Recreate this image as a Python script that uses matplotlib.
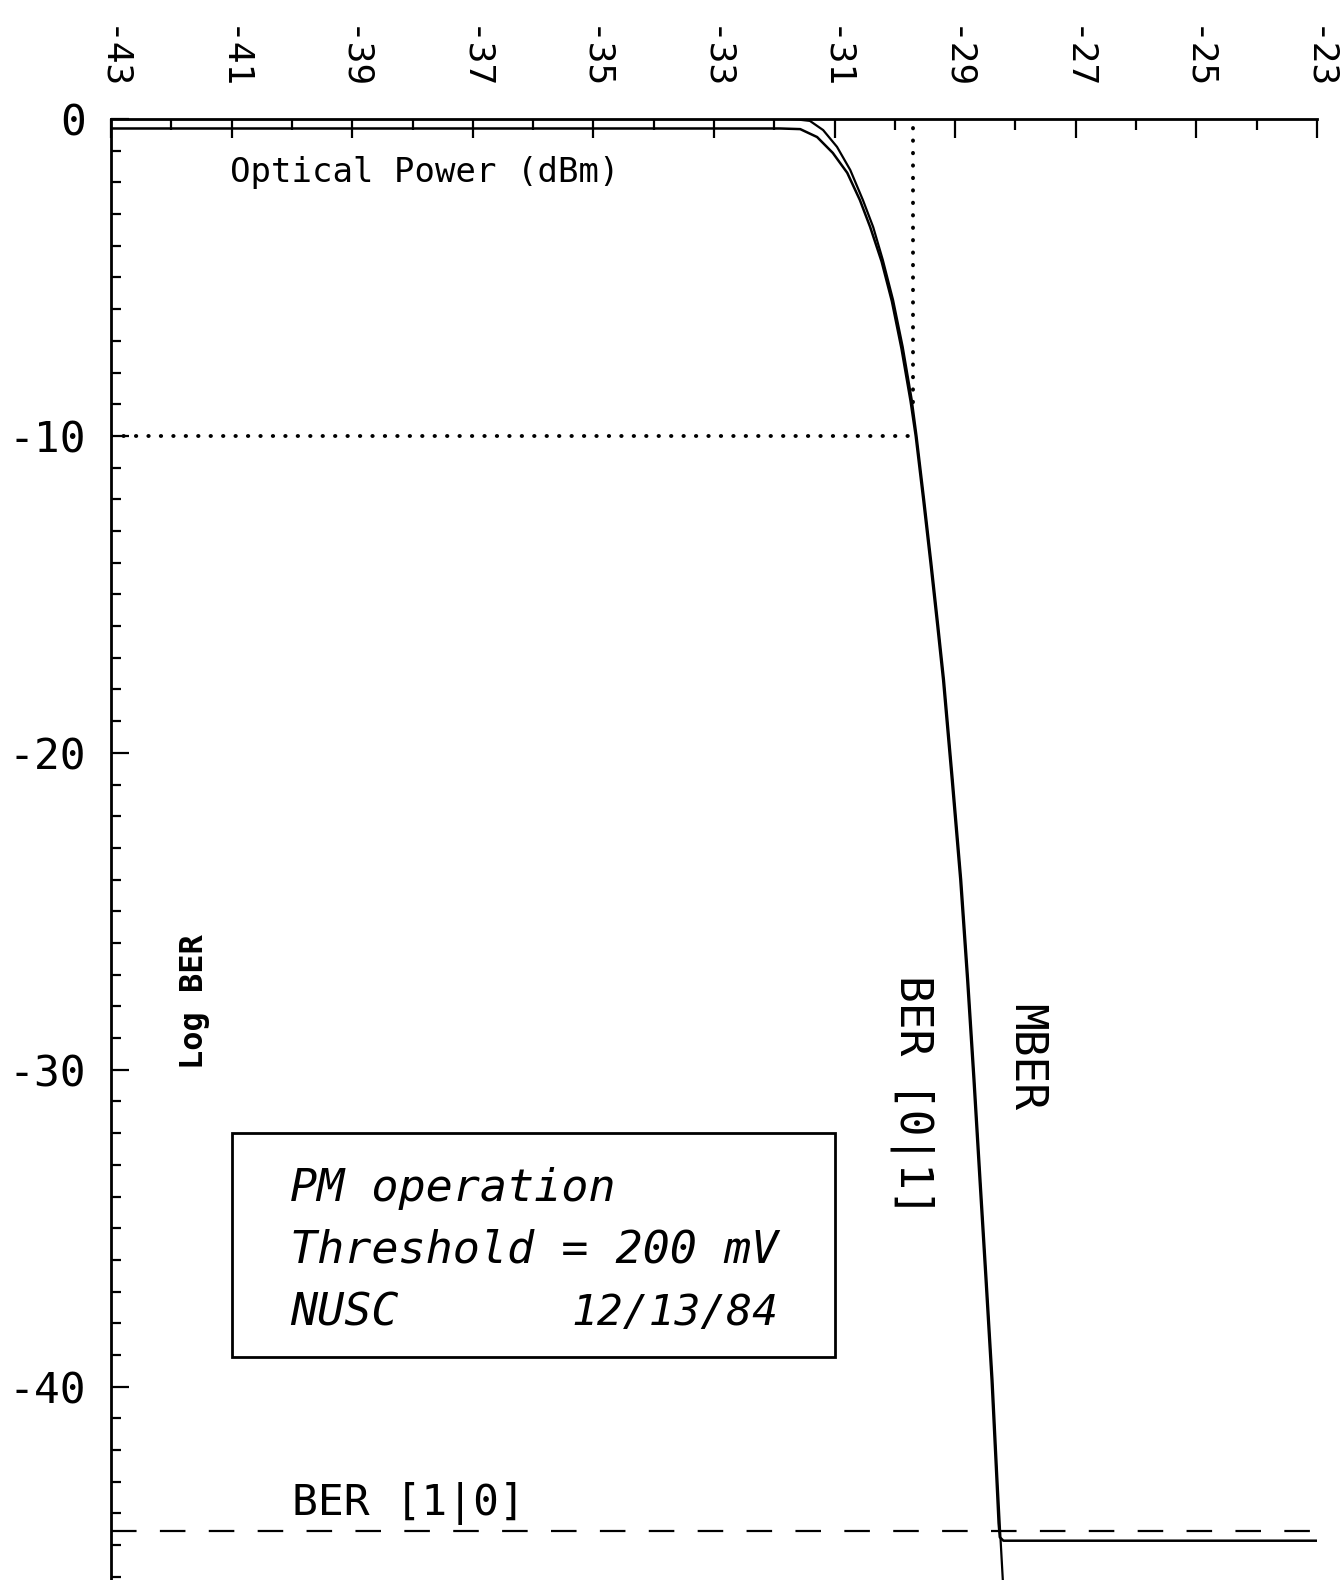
import matplotlib
matplotlib.use("Agg")
import matplotlib.pyplot as plt
from matplotlib.patches import Rectangle
from matplotlib.ticker import MultipleLocator

# ---- data ----
x_ticks = [-43, -41, -39, -37, -35, -33, -31, -29, -27, -25, -23]
x_ticklabels = ["-43", "-41", "-39", "-37", "-35", "-33", "-31", "-29", "-27", "-25", "-23"]
y_ticks = [0, -10, -20, -30, -40]
y_ticklabels = ["0", "-10", "-20", "-30", "-40"]

ber01_x = [-43, -31.8, -31.6, -31.41, -31.19, -30.96, -30.74, -30.53, -30.36, -30.20,
           -30.03, -29.87, -29.72, -29.64, -29.515, -29.395, -29.28, -29.185, -29.04,
           -28.90, -28.785, -28.68, -28.58, -28.48, -28.38, -28.30, -28.255, -28.21]
ber01_y = [0, 0, -0.02, -0.06, -0.35, -0.88, -1.61, -2.56, -3.41, -4.45,
           -5.71, -7.19, -8.86, -10.0, -12.0, -14.0, -16.0, -17.7, -20.85,
           -24.0, -27.16, -30.3, -33.47, -36.6, -39.8, -42.9, -44.56, -46.1]

mber_x = [-43, -31.9, -31.57, -31.29, -31.03, -30.79, -30.58, -30.41, -30.22, -30.05,
          -29.89, -29.74, -29.655, -29.53, -29.41, -29.295, -29.20, -29.055, -28.915,
          -28.80, -28.695, -28.595, -28.495, -28.395, -28.315, -28.28, -28.26, -28.2, -23]
mber_y = [-0.3, -0.3, -0.32, -0.57, -1.07, -1.70, -2.56, -3.41, -4.5, -5.75,
          -7.25, -8.9, -10.0, -12.0, -14.0, -16.0, -17.7, -20.85, -24.0,
          -27.16, -30.3, -33.47, -36.6, -39.8, -42.9, -44.3, -44.75, -44.86, -44.86]

ber10_level = -44.56
threshold_x = -29.7
threshold_y = -10

mono = "DejaVu Sans Mono"

fig = plt.figure(figsize=(13.43, 15.80), dpi=100)
ax = fig.add_axes([0.0827, 0.0, 0.8979, 0.9247])
ax.set_xlim(-43, -23)
ax.set_ylim(-46.1, 0)

# curves
ax.plot(ber01_x, ber01_y, color="black", lw=1.6, solid_joinstyle="round")
ax.plot(mber_x, mber_y, color="black", lw=1.8, solid_joinstyle="round")

# BER[1|0] dashed level
ax.plot([-43, -23], [ber10_level, ber10_level], color="black", lw=1.6,
        dashes=(11.5, 10.5))

# threshold dotted lines
ax.plot([-43, -29.76], [threshold_y, threshold_y], color="black", lw=2.8,
        linestyle=(0, (0.1, 3.1)), dash_capstyle="round")
ax.plot([threshold_x, threshold_x], [-0.3, -9.2], color="black", lw=2.8,
        linestyle=(0, (0.1, 3.1)), dash_capstyle="round")

# spines
for s in ["right", "bottom"]:
    ax.spines[s].set_visible(False)
ax.spines["top"].set_linewidth(2.0)
ax.spines["left"].set_linewidth(2.0)

# x axis on top
ax.xaxis.tick_top()
ax.set_xticks(x_ticks)
ax.set_xticklabels(x_ticklabels, rotation=-90, fontsize=26, family=mono)
ax.xaxis.set_minor_locator(MultipleLocator(1))
ax.tick_params(axis="x", which="major", direction="in", length=14, width=1.6, pad=20)
ax.tick_params(axis="x", which="minor", direction="in", length=8, width=1.6)

# y axis
ax.set_yticks(y_ticks)
ax.set_yticklabels(y_ticklabels, fontsize=31, family=mono)
ax.yaxis.set_minor_locator(MultipleLocator(1))
ax.tick_params(axis="y", which="major", direction="in", length=13, width=1.6, pad=18)
ax.tick_params(axis="y", which="minor", direction="in", length=7, width=1.6)

# labels
ax.text(-41.03, -1.70, "Optical Power (dBm)", fontsize=24.5, family=mono,
        ha="left", va="center")
ax.text(-41.62, -27.85, "Log BER", fontsize=23, family=mono, fontweight="bold",
        rotation=90, ha="center", va="center")
ax.text(-29.72, -30.8, "BER [0|1]", fontsize=32, family=mono,
        rotation=-90, ha="center", va="center")
ax.text(-27.83, -29.6, "MBER", fontsize=32, family=mono,
        rotation=-90, ha="center", va="center")
ax.text(-40.0, -43.7, "BER [1|0]", fontsize=31, family=mono,
        ha="left", va="center")

# annotation box
ax.add_patch(Rectangle((-41.0, -39.05), 10.0, 7.05, fill=False, lw=2.0,
                       edgecolor="black"))
ax.text(-40.03, -33.75, "PM operation", fontsize=32.5, family=mono, style="italic",
        ha="left", va="center")
ax.text(-40.03, -35.7, "Threshold = 200 mV", fontsize=32.5, family=mono, style="italic",
        ha="left", va="center")
ax.text(-40.03, -37.67, "NUSC", fontsize=32.5, family=mono, style="italic",
        ha="left", va="center")
ax.text(-35.37, -37.67, "12/13/84", fontsize=31, family=mono, style="italic",
        ha="left", va="center")

fig.savefig("out.png", dpi=100)
